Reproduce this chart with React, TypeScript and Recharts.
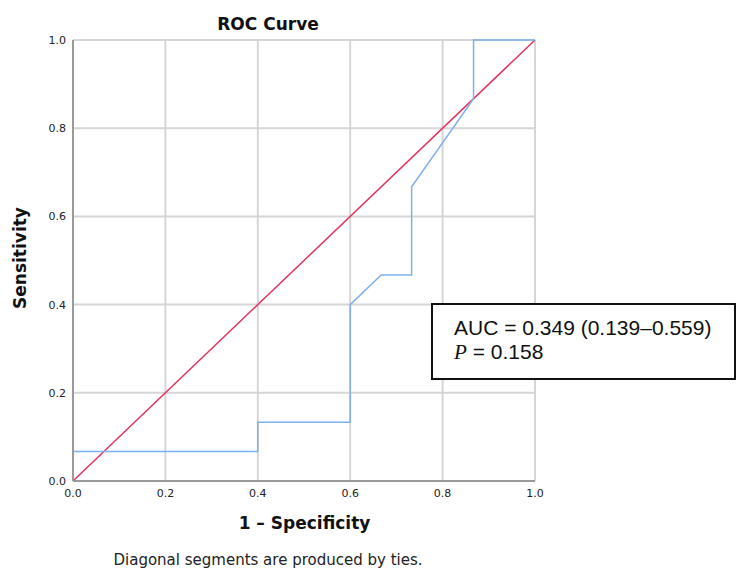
import { LineChart, Line, XAxis, YAxis, CartesianGrid } from 'recharts'

// ROC curve (1 - specificity, sensitivity)
const rocX = [0, 0, 0.4, 0.4, 0.6, 0.6, 0.667, 0.733, 0.733, 0.867, 0.867, 1]
const rocY = [0, 0.067, 0.067, 0.133, 0.133, 0.4, 0.467, 0.467, 0.667, 0.867, 1, 1]
const refX = [0, 1]
const refY = [0, 1]
const ticks = [0, 0.2, 0.4, 0.6, 0.8, 1]

const rocData = rocX.map((x, i) => ({ x, y: rocY[i] }))
const refData = refX.map((x, i) => ({ x, y: refY[i] }))

const tickStyle = { fontFamily: 'DejaVu Sans', fontSize: 11, fill: '#222' }
const bold = { fontFamily: 'DejaVu Sans', fontWeight: 700, color: '#111' }

export default function App() {
  return (
    <div style={{ position: 'absolute', left: 0, top: 0, width: 737, height: 570, background: '#fff' }}>
      <LineChart width={737} height={570} margin={{ top: 40, right: 202, bottom: 59, left: 30 }}>
        <CartesianGrid stroke="#d6d6d6" strokeWidth={2} />
        <XAxis
          type="number"
          dataKey="x"
          domain={[0, 1]}
          ticks={ticks}
          tickFormatter={(v: number) => v.toFixed(1)}
          tickLine={false}
          axisLine={{ stroke: '#9a9a9a', strokeWidth: 2 }}
          tick={tickStyle}
          height={30}
          tickMargin={2}
        />
        <YAxis
          type="number"
          dataKey="y"
          domain={[0, 1]}
          ticks={ticks}
          tickFormatter={(v: number) => v.toFixed(1)}
          tickLine={false}
          axisLine={{ stroke: '#9a9a9a', strokeWidth: 2 }}
          tick={tickStyle}
          width={43}
          tickMargin={1}
        />
        <Line data={refData} dataKey="y" type="linear" stroke="#e2335f" strokeWidth={1.5} dot={false} isAnimationActive={false} />
        <Line data={rocData} dataKey="y" type="linear" stroke="#7eb0ee" strokeWidth={1.5} dot={false} isAnimationActive={false} />
      </LineChart>
      <div style={{ ...bold, position: 'absolute', left: 168, width: 200, top: 14, textAlign: 'center', fontSize: 17 }}>ROC Curve</div>
      <div style={{ ...bold, position: 'absolute', left: 187, width: 235, top: 513, textAlign: 'center', fontSize: 17 }}>1 – Specificity</div>
      <div
        style={{
          ...bold,
          position: 'absolute',
          left: 20,
          top: 258,
          fontSize: 17,
          transform: 'translate(-50%, -50%) rotate(-90deg)',
          whiteSpace: 'nowrap',
        }}
      >
        Sensitivity
      </div>
      <div style={{ position: 'absolute', left: 48, width: 440, top: 551, textAlign: 'center', fontFamily: 'DejaVu Sans', fontSize: 15, color: '#222' }}>
        Diagonal segments are produced by ties.
      </div>
      <div
        style={{
          position: 'absolute',
          left: 431,
          top: 303,
          width: 301,
          height: 73,
          border: '2px solid #111',
          background: '#fff',
          fontFamily: 'Liberation Sans',
          fontSize: 21,
          lineHeight: '24px',
          color: '#111',
          boxSizing: 'content-box',
        }}
      >
        <div style={{ position: 'absolute', left: 21, top: 11, whiteSpace: 'nowrap' }}>AUC = 0.349 (0.139–0.559)</div>
        <div style={{ position: 'absolute', left: 21, top: 35, whiteSpace: 'nowrap' }}>
          <span style={{ fontFamily: 'Liberation Serif', fontStyle: 'italic' }}>P</span> = 0.158
        </div>
      </div>
    </div>
  )
}
